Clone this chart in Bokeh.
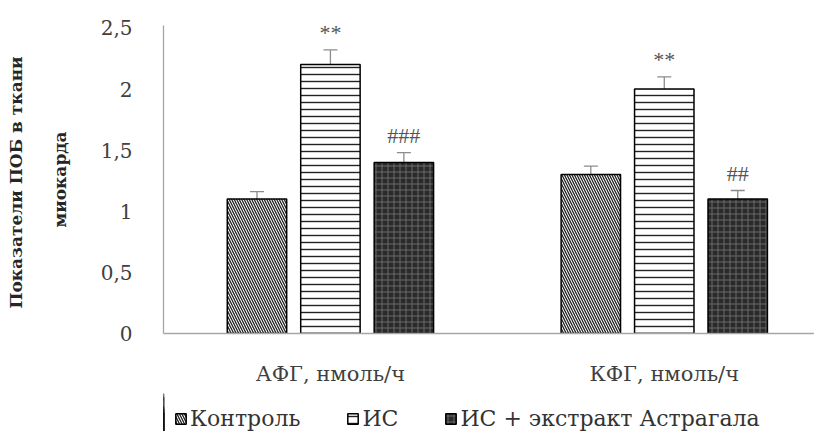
import numpy as np
from bokeh.plotting import figure
from bokeh.layouts import column
from bokeh.models import (ColumnDataSource, Range1d, FixedTicker, Legend, LegendItem,
                          Whisker, LabelSet, Title)
from bokeh.embed import file_html
from bokeh.resources import INLINE

categories = ["АФГ, нмоль/ч", "КФГ, нмоль/ч"]
series = ["Контроль", "ИС", "ИС + экстракт Астрагала"]
control = [1.1, 1.3]
ischemia = [2.2, 2.0]
astragal = [1.4, 1.1]
control_err = [0.06, 0.07]
ischemia_err = [0.12, 0.10]
astragal_err = [0.08, 0.07]
control_marks = ["", ""]
ischemia_marks = ["**", "**"]
astragal_marks = ["###", "##"]
y_ticks = [0, 0.5, 1, 1.5, 2, 2.5]
y_tick_labels = ["0", "0,5", "1", "1,5", "2", "2,5"]
y_title_lines = ["Показатели  ПОБ в ткани", "миокарда"]

SERIF = "DejaVu Serif"

p = figure(width=814, height=388, output_backend="svg", toolbar_location=None,
           x_range=Range1d(0, 1.95), y_range=Range1d(0, 2.52),
           min_border_left=163, min_border_right=0, min_border_top=25, min_border_bottom=49)
p.outline_line_color = None
p.xgrid.visible = False
p.ygrid.visible = False

centers = np.arange(len(categories)) + 0.5
offsets = [-0.22, 0.0, 0.22]
bar_w = 0.178
styles = [
    dict(fill_color="white", hatch_pattern="\\", hatch_color="#222222", hatch_scale=5, hatch_weight=1.3),
    dict(fill_color="white", hatch_pattern="-", hatch_color="#222222", hatch_scale=7, hatch_weight=1.4),
    dict(fill_color="#2a2a2a", hatch_pattern="+", hatch_color="#6a6a6a", hatch_scale=6, hatch_weight=1.0),
]
values = [control, ischemia, astragal]
errors = [control_err, ischemia_err, astragal_err]
marks = [control_marks, ischemia_marks, astragal_marks]

for vals, errs, mk, off, st in zip(values, errors, marks, offsets, styles):
    vals = np.array(vals)
    errs = np.array(errs)
    src = ColumnDataSource(dict(x=centers + off, top=vals, lo=vals - errs, hi=vals + errs, m=mk))
    p.vbar(x="x", top="top", width=bar_w, source=src, line_color="black", line_width=1.5, **st)
    w = Whisker(base="x", lower="lo", upper="hi", source=src, line_color="#8c8c8c", line_width=1.3)
    w.upper_head.size = 14
    w.upper_head.line_color = "#8c8c8c"
    w.upper_head.line_width = 1.3
    w.lower_head = None
    p.add_layout(w)
    lab = LabelSet(x="x", y="hi", text="m", source=src, text_align="center", text_baseline="bottom",
                   y_offset=5, text_font=SERIF, text_font_size="22px", text_color="#555555")
    p.add_layout(lab)

p.yaxis.ticker = FixedTicker(ticks=y_ticks)
p.yaxis.major_label_overrides = {t: l for t, l in zip(y_ticks, y_tick_labels)}
p.yaxis.major_tick_line_color = None
p.yaxis.minor_tick_line_color = None
p.yaxis.axis_line_color = "#a6a6a6"
p.yaxis.axis_line_width = 1.3
p.yaxis.major_label_text_font = SERIF
p.yaxis.major_label_text_font_size = "20px"
p.yaxis.major_label_text_color = "#404040"
p.yaxis.major_label_standoff = 25

for i, line in enumerate(reversed(y_title_lines)):
    t = Title(text=line, align="center", text_font=SERIF, text_font_style="bold",
              text_font_size="17px", text_color="#262626",
              offset=0, standoff=(56 if i == 0 else -12))
    p.add_layout(t, "left")

p.xaxis.ticker = FixedTicker(ticks=list(centers))
p.xaxis.major_label_overrides = {float(c): cat for c, cat in zip(centers, categories)}
p.xaxis.major_tick_line_color = None
p.xaxis.minor_tick_line_color = None
p.xaxis.axis_line_color = "#a6a6a6"
p.xaxis.axis_line_width = 1.3
p.xaxis.major_label_text_font = SERIF
p.xaxis.major_label_text_font_size = "21px"
p.xaxis.major_label_text_color = "#404040"
p.xaxis.major_label_standoff = 22

# legend strip below the chart (its bars lie far outside the visible x range; only the legend shows)
leg_fig = figure(width=814, height=43, output_backend="svg", toolbar_location=None,
                 x_axis_location=None, y_axis_location=None, min_border=0,
                 x_range=Range1d(100, 101.95), y_range=Range1d(0, 2.52))
leg_fig.outline_line_color = None
leg_fig.grid.visible = False
items = []
for name, vals, off, st in zip(series, values, offsets, styles):
    r = leg_fig.vbar(x=centers + off, top=vals, width=bar_w, line_color="black", line_width=1.5, **st)
    items.append(LegendItem(label=name, renderers=[r]))
legend = Legend(items=items, orientation="horizontal", location=(11, 0),
                border_line_color=None, background_fill_alpha=0,
                label_text_font=SERIF, label_text_font_size="22px", label_text_color="#333333",
                glyph_width=13, glyph_height=13, label_standoff=3, spacing=46,
                padding=0, margin=0)
leg_fig.add_layout(legend)

layout = column(p, leg_fig, spacing=0)
open("out.html", "w").write(file_html(layout, INLINE))
